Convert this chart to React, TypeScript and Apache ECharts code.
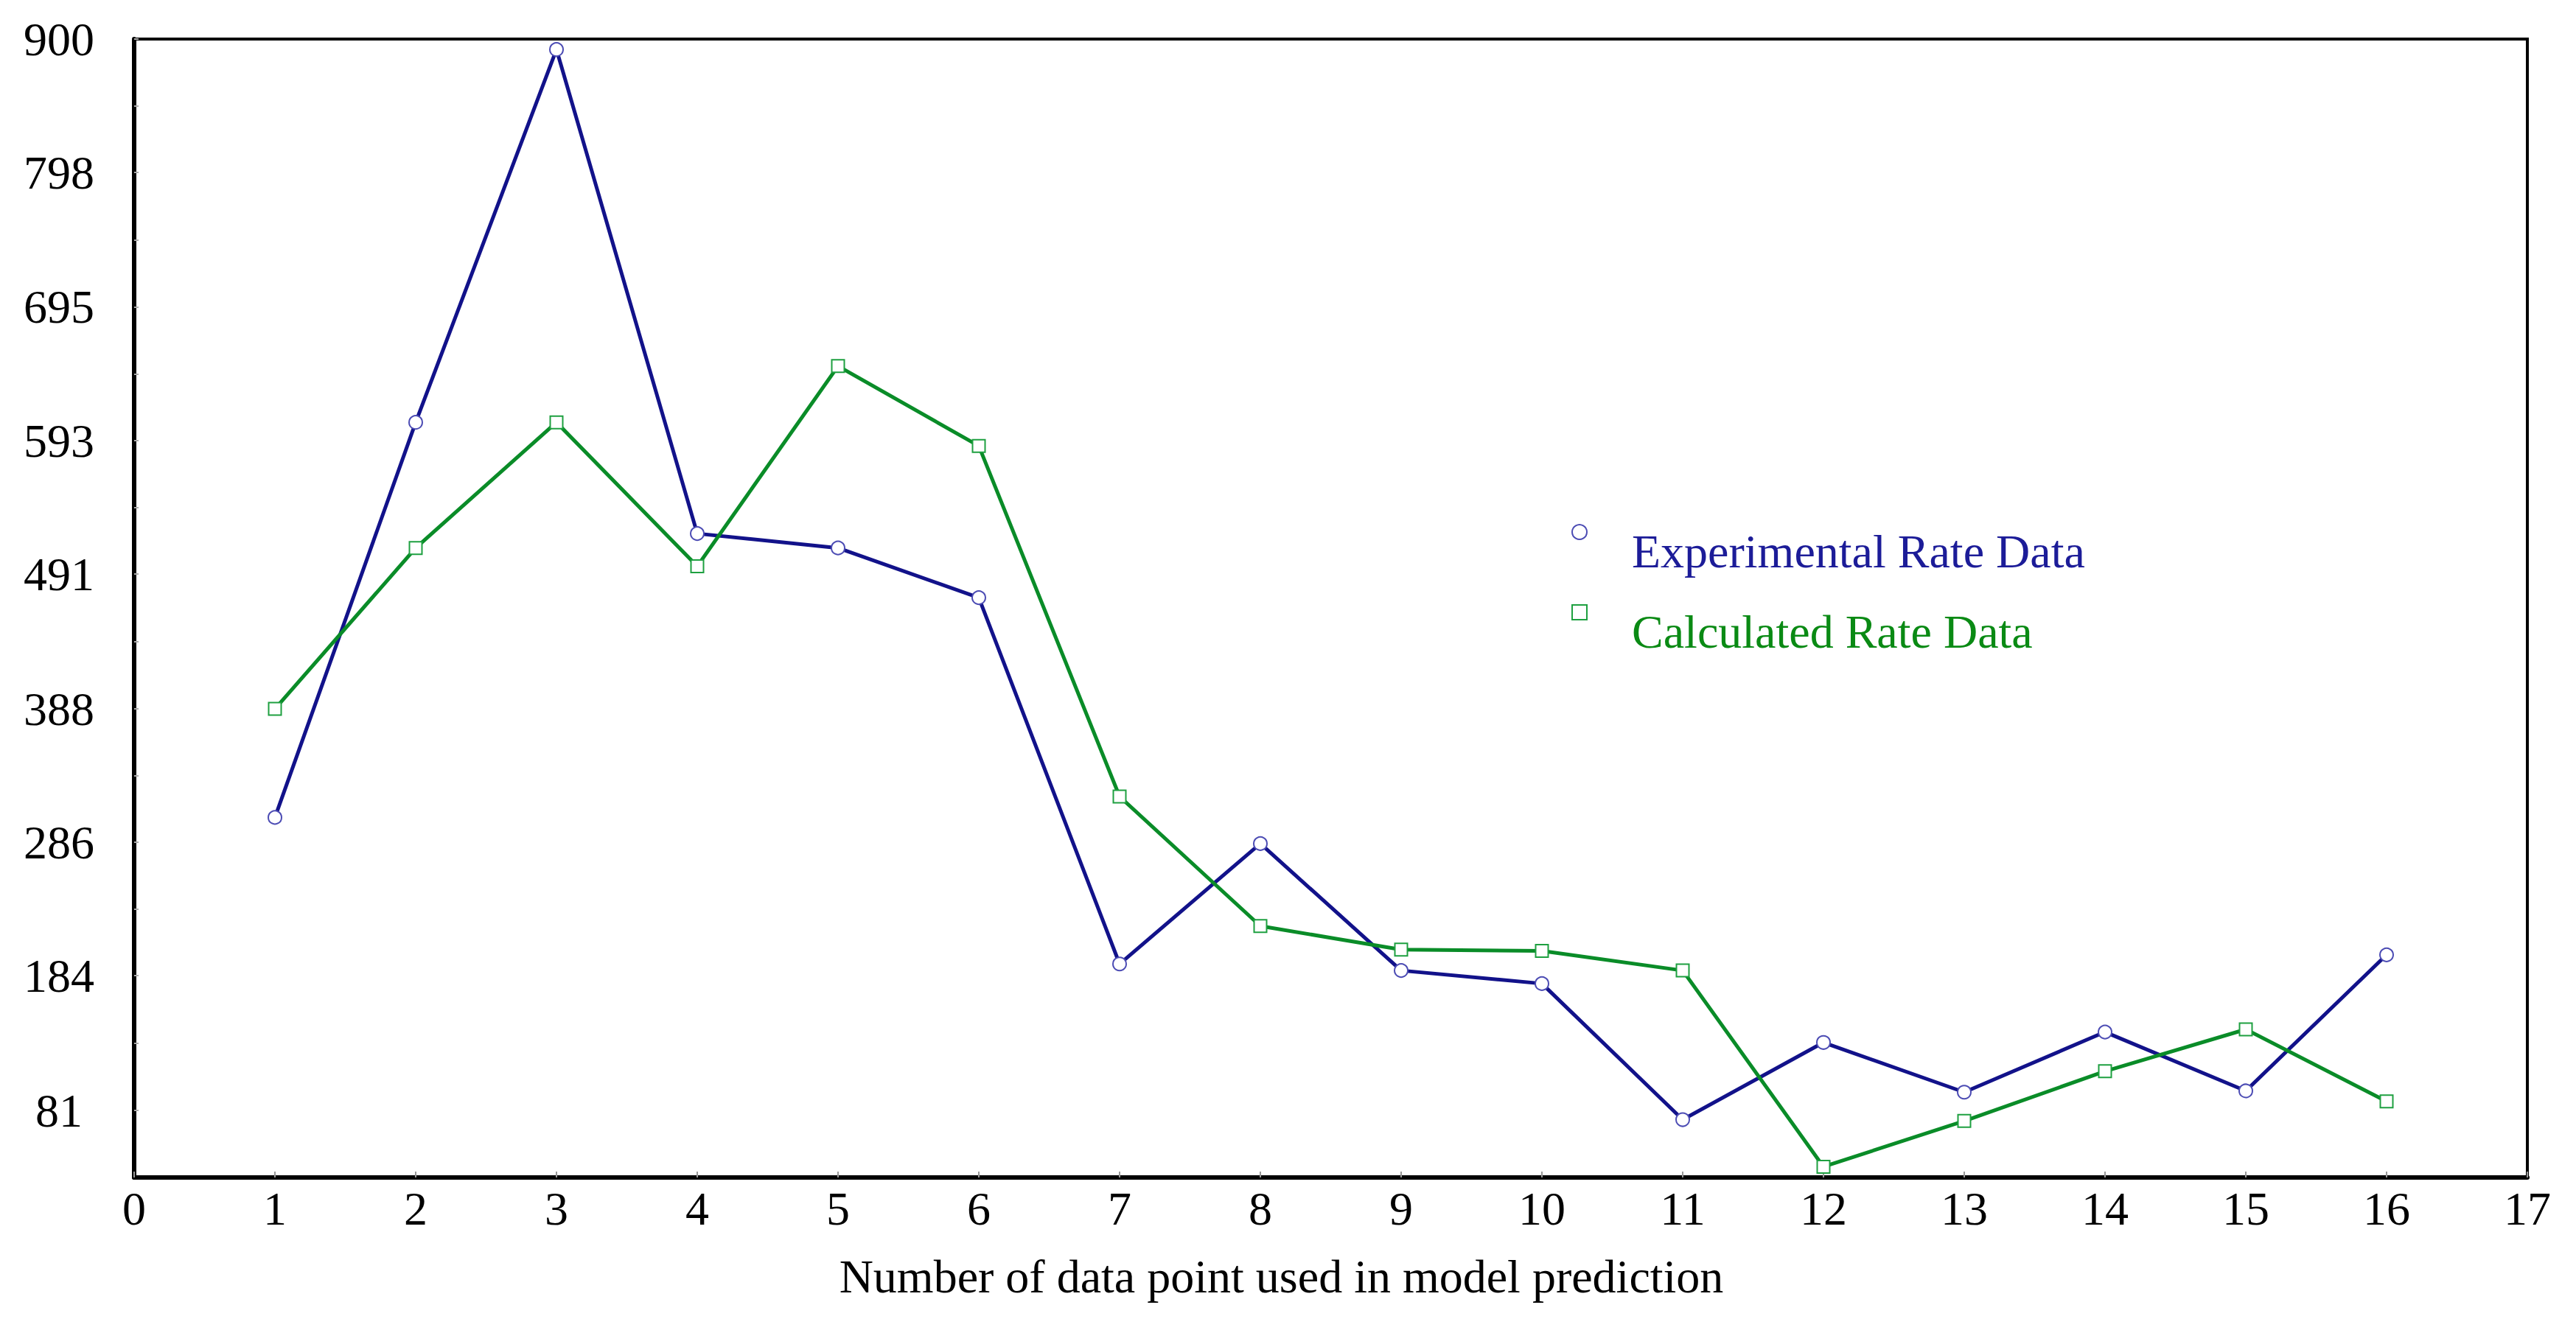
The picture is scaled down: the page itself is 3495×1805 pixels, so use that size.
import React, { useEffect, useRef } from "react";
import * as echarts from "echarts";

// ---- data ----
const pointNumbers = [1, 2, 3, 4, 5, 6, 7, 8, 9, 10, 11, 12, 13, 14, 15, 16];
const experimentalRate = [305, 607, 892, 522, 511, 473, 193, 285, 188, 178, 74, 133, 95, 141, 96, 200];
const calculatedRate = [388, 511, 607, 497, 650, 589, 321, 222, 204, 203, 188, 38, 73, 111, 143, 88];
const yTickLabels = [81, 184, 286, 388, 491, 593, 695, 798, 900];
const xMinValue = 0;
const xMaxValue = 17;
const yMinValue = 29.8;
const yMaxValue = 900;
const seriesNames = ["Experimental Rate Data", "Calculated Rate Data"];
const xAxisTitle = "Number of data point used in model prediction";

const FONT = "'Liberation Serif', 'Times New Roman', serif";
const BLUE_LINE = "#12128a";
const BLUE_MARK = "#4c4cb4";
const BLUE_TEXT = "#1c1c98";
const GREEN_LINE = "#0a8c28";
const GREEN_MARK = "#1ea040";
const GREEN_TEXT = "#0a8a14";

export default function App() {
  const ref = useRef<HTMLDivElement>(null);

  useEffect(() => {
    if (!ref.current) return;
    const chart = echarts.init(ref.current, null, { renderer: "svg" });

    const yMinorTicks: number[] = [];
    for (let i = 0; i < yTickLabels.length - 1; i++) {
      yMinorTicks.push((yTickLabels[i] + yTickLabels[i + 1]) / 2);
    }
    const yAllTicks = [...yTickLabels, ...yMinorTicks].sort((a, b) => a - b);

    const expData = pointNumbers.map((x, i) => [x, experimentalRate[i]]);
    const calcData = pointNumbers.map((x, i) => [x, calculatedRate[i]]);

    chart.setOption({
      animation: false,
      backgroundColor: "#ffffff",
      grid: {
        left: 182,
        right: 66,
        top: 53,
        bottom: 207,
        show: true,
        borderColor: "#000",
        borderWidth: 4,
        backgroundColor: "transparent",
      },
      legend: {
        orient: "vertical",
        left: 2132,
        top: 664,
        padding: 0,
        itemGap: -7,
        itemWidth: 20,
        itemHeight: 20,
        selectedMode: false,
        formatter: (name: string) => "\n" + name,
        textStyle: {
          fontFamily: FONT,
          fontSize: 64,
          lineHeight: 52,
          padding: [0, 0, 0, 56],
        },
        data: [
          {
            name: seriesNames[0],
            icon: "circle",
            itemStyle: { color: "#fff", borderColor: BLUE_MARK, borderWidth: 2 },
            textStyle: { color: BLUE_TEXT },
          },
          {
            name: seriesNames[1],
            icon: "rect",
            itemStyle: { color: "#fff", borderColor: GREEN_MARK, borderWidth: 2 },
            textStyle: { color: GREEN_TEXT },
          },
        ],
      },
      xAxis: {
        type: "value",
        min: xMinValue,
        max: xMaxValue,
        interval: 1,
        name: xAxisTitle,
        nameLocation: "middle",
        nameGap: 102,
        nameTextStyle: {
          fontFamily: FONT,
          fontSize: 64,
          color: "#000",
          padding: [0, 134, 0, 0],
        },
        axisLine: { show: true, lineStyle: { color: "#000", width: 6 } },
        axisTick: { show: true, inside: true, length: 8, lineStyle: { color: "#999", width: 2 } },
        axisLabel: {
          fontFamily: FONT,
          fontSize: 64,
          color: "#000",
          margin: 10,
          showMinLabel: true,
          showMaxLabel: true,
        },
        splitLine: { show: false },
      },
      yAxis: {
        type: "value",
        min: yMinValue,
        max: yMaxValue,
        axisLine: { show: true, lineStyle: { color: "#000", width: 6 } },
        axisTick: {
          show: true,
          inside: true,
          length: 6,
          customValues: yAllTicks,
          lineStyle: { color: "#aaa", width: 2 },
        },
        axisLabel: {
          fontFamily: FONT,
          fontSize: 64,
          color: "#000",
          align: "center",
          margin: 102,
          customValues: yTickLabels,
          formatter: (v: number) => String(v),
        },
        splitLine: { show: false },
      },
      series: [
        {
          name: seriesNames[0],
          type: "line",
          data: expData,
          symbol: "circle",
          symbolSize: 18,
          showAllSymbol: true,
          lineStyle: { color: BLUE_LINE, width: 5 },
          itemStyle: { color: "#fff", borderColor: BLUE_MARK, borderWidth: 2 },
          emphasis: { disabled: true },
          z: 2,
        },
        {
          name: seriesNames[1],
          type: "line",
          data: calcData,
          symbol: "rect",
          symbolSize: 17,
          showAllSymbol: true,
          lineStyle: { color: GREEN_LINE, width: 5 },
          itemStyle: { color: "#fff", borderColor: GREEN_MARK, borderWidth: 2 },
          emphasis: { disabled: true },
          z: 3,
        },
      ],
    });

    return () => {
      chart.dispose();
    };
  }, []);

  return (
    <div
      ref={ref}
      style={{ position: "fixed", left: 0, top: 0, width: "3495px", height: "1805px", background: "#fff" }}
    />
  );
}
